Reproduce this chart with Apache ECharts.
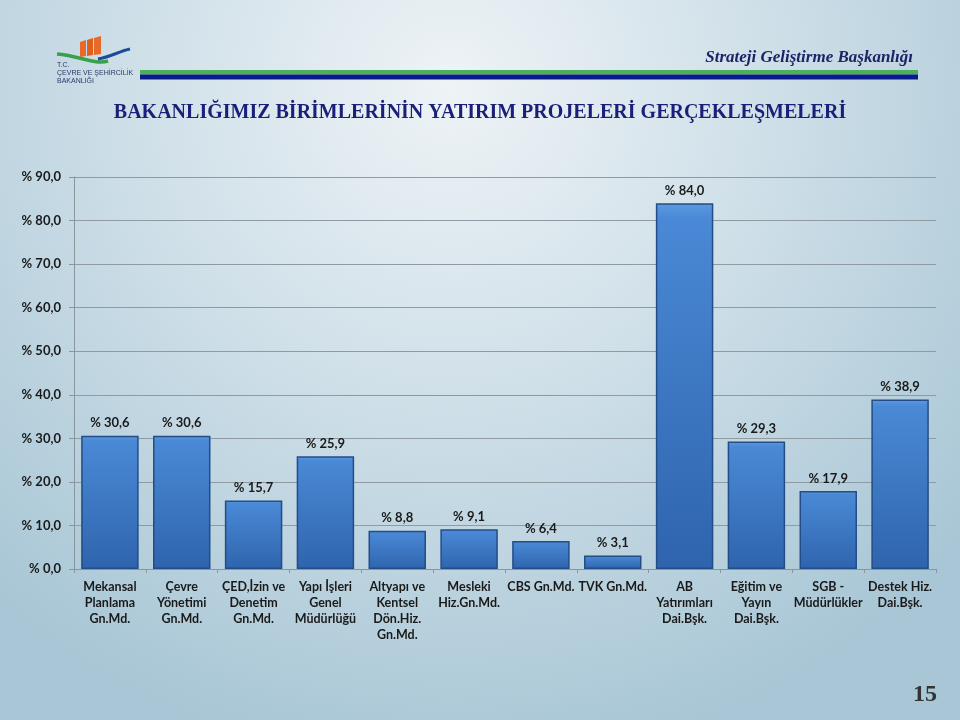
<!DOCTYPE html>
<html>
<head>
<meta charset="utf-8">
<script src="https://cdn.jsdelivr.net/npm/echarts@6/dist/echarts.min.js"></script>
<style>
html,body{margin:0;padding:0;}
#c{width:960px;height:720px;}
</style>
</head>
<body>
<div id="c"></div>
<script>
const categories = [
  "Mekansal\nPlanlama\nGn.Md.",
  "Çevre\nYönetimi\nGn.Md.",
  "ÇED,İzin ve\nDenetim\nGn.Md.",
  "Yapı İşleri\nGenel\nMüdürlüğü",
  "Altyapı ve\nKentsel\nDön.Hiz.\nGn.Md.",
  "Mesleki\nHiz.Gn.Md.",
  "CBS Gn.Md.",
  "TVK Gn.Md.",
  "AB\nYatırımları\nDai.Bşk.",
  "Eğitim ve\nYayın\nDai.Bşk.",
  "SGB -\nMüdürlükler",
  "Destek Hiz.\nDai.Bşk."
];
const values = [30.6, 30.6, 15.7, 25.9, 8.8, 9.1, 6.4, 3.1, 84.0, 29.3, 17.9, 38.9];
const yTicks = [0, 10, 20, 30, 40, 50, 60, 70, 80, 90];

const fmt = v => '% ' + Number(v).toFixed(1).replace('.', ',');

const chart = echarts.init(document.getElementById('c'));
chart.setOption({
  animation: false,
  backgroundColor: {
    type: 'radial', x: 0.47, y: 0.12, r: 0.95,
    colorStops: [
      {offset: 0, color: '#eef3f6'},
      {offset: 0.45, color: '#d0e0e9'},
      {offset: 1, color: '#a8c6d5'}
    ]
  },
  textStyle: {fontFamily: 'Lato, "Open Sans", sans-serif'},
  graphic: [
    // header lines
    {type: 'rect', shape: {x: 140, y: 70, width: 778, height: 4.5}, style: {fill: '#4caf5a'}},
    {type: 'rect', shape: {x: 140, y: 74.5, width: 778, height: 5}, style: {fill: '#0a1a8a'}},
    // logo
    {type: 'polygon', shape: {points: [[80,42],[86,40],[86,56],[80,57]]}, style: {fill: '#e8692a'}},
    {type: 'polygon', shape: {points: [[87,40],[93,38],[93,55],[87,56]]}, style: {fill: '#e0601f'}},
    {type: 'polygon', shape: {points: [[94,38],[101,36],[101,54],[94,55]]}, style: {fill: '#e8692a'}},
    {type: 'bezierCurve', shape: {x1: 57, y1: 54, x2: 108, y2: 61, cpx1: 80, cpy1: 56, cpx2: 95, cpy2: 65}, style: {stroke: '#3aa04a', lineWidth: 3.5, fill: null}},
    {type: 'bezierCurve', shape: {x1: 98, y1: 59, x2: 130, y2: 49, cpx1: 110, cpy1: 57, cpx2: 120, cpy2: 51}, style: {stroke: '#1e4a9a', lineWidth: 3, fill: null}},
    {type: 'text', left: 57, top: 61, style: {text: 'T.C.\nÇEVRE VE ŞEHİRCİLİK\nBAKANLIĞI', fontSize: 7, lineHeight: 8, fill: '#2a3a6a', fontFamily: 'Liberation Sans, sans-serif'}},
    // header title right
    {type: 'text', right: 47, top: 49, style: {text: 'Strateji Geliştirme Başkanlığı', fontSize: 17, fontStyle: 'italic', fontWeight: 'bold', fill: '#1c2466', fontFamily: '"Liberation Serif", "DejaVu Serif", serif'}},
    // main title
    {type: 'text', left: 'center', top: 103, style: {text: 'BAKANLIĞIMIZ BİRİMLERİNİN YATIRIM PROJELERİ GERÇEKLEŞMELERİ', fontSize: 20, fontWeight: 'bold', fill: '#1a1f78', fontFamily: '"Liberation Serif", "DejaVu Serif", serif'}},
    // page number
    {type: 'text', left: 913, top: 683, style: {text: '15', fontSize: 24, fontWeight: 'bold', fill: '#333', fontFamily: '"Liberation Serif", serif'}}
  ],
  grid: {left: 74, right: 24, top: 177, bottom: 151, containLabel: false},
  xAxis: {
    type: 'category',
    data: categories,
    axisLine: {lineStyle: {color: '#8a969e', width: 1}},
    axisTick: {show: true, length: 4, lineStyle: {color: '#8a969e'}},
    axisLabel: {
      interval: 0, fontSize: 12.5, fontWeight: 'bold', color: '#1a1a1a',
      lineHeight: 16, margin: 10,
      fontFamily: 'Lato, "Open Sans", sans-serif'
    }
  },
  yAxis: {
    type: 'value', min: 0, max: 90, interval: 10,
    axisLine: {show: true, lineStyle: {color: '#8a969e'}},
    axisTick: {show: true, length: 5, lineStyle: {color: '#8a969e'}},
    splitLine: {lineStyle: {color: '#8f9aa2', width: 1}},
    axisLabel: {
      formatter: v => fmt(v), fontSize: 13, fontWeight: 'bold', color: '#1a1a1a',
      margin: 13, fontFamily: 'Lato, "Open Sans", sans-serif'
    }
  },
  series: [{
    type: 'bar',
    data: values,
    barCategoryGap: '20%',
    itemStyle: {
      color: {
        type: 'linear', x: 0, y: 0, x2: 0, y2: 1,
        colorStops: [
          {offset: 0, color: '#5b9be0'},
          {offset: 0.04, color: '#4a89d6'},
          {offset: 1, color: '#2f64ad'}
        ]
      },
      borderColor: '#234d86',
      borderWidth: 1.5
    },
    label: {
      show: true, position: 'top', distance: 6,
      formatter: p => fmt(p.value),
      fontSize: 13, fontWeight: 'bold', color: '#1a1a1a',
      fontFamily: 'Lato, "Open Sans", sans-serif'
    }
  }]
});
</script>
</body>
</html>
